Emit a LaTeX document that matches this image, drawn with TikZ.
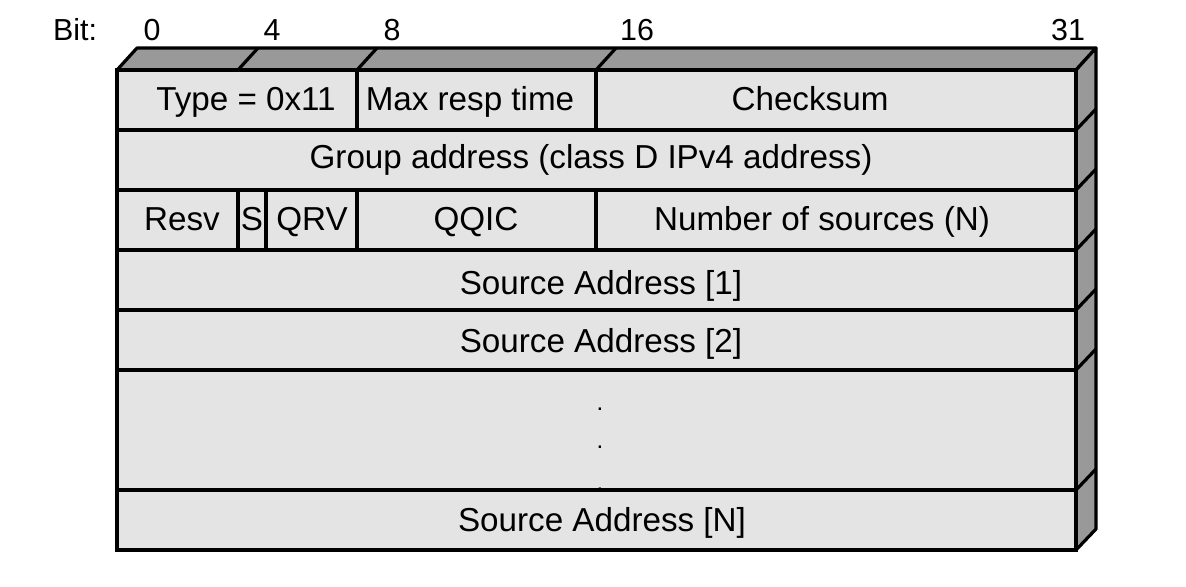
\documentclass[tikz,border=0pt]{standalone}
\usepackage{fontspec}
\setmainfont{Liberation Sans}
\definecolor{facegray}{HTML}{E4E4E4}
\definecolor{edgegray}{HTML}{999999}
\begin{document}
\begin{tikzpicture}[x=0.5pt,y=-0.5pt,
  cell/.style={draw=black,line width=1.6pt,fill=facegray},
  bevel/.style={draw=black,line width=1.6pt,fill=edgegray,line join=round},
  edge/.style={draw=black,line width=1.6pt},
  lbl/.style={font=\fontsize{16.6}{19}\selectfont,inner sep=0pt,anchor=base},
  bitlbl/.style={font=\fontsize{15.2}{17}\selectfont,inner sep=0pt,anchor=base}]
\useasboundingbox (0,0) rectangle (1186,587);
% top face
\draw[bevel] (117,70) -- (137,48) -- (1096,48) -- (1076,70) -- cycle;
\foreach \xx in {238,357,596} \draw[edge] (\xx,70) -- ++(20,-22);
% right side face
\draw[bevel] (1076,70) -- (1096,48) -- (1096,529) -- (1076,550) -- cycle;
\foreach \yy in {130,190,250,310,370,490} \draw[edge] (1076,\yy) -- ++(20,-21);
% row 1
\draw[cell] (117,70) rectangle (357,130);
\draw[cell] (357,70) rectangle (596,130);
\draw[cell] (596,70) rectangle (1076,130);
% row 2
\draw[cell] (117,130) rectangle (1076,190);
% row 3
\draw[cell] (117,190) rectangle (238,250);
\draw[cell] (238,190) rectangle (266,250);
\draw[cell] (266,190) rectangle (357,250);
\draw[cell] (357,190) rectangle (596,250);
\draw[cell] (596,190) rectangle (1076,250);
% rows 4..7
\draw[cell] (117,250) rectangle (1076,310);
\draw[cell] (117,310) rectangle (1076,370);
\draw[cell] (117,370) rectangle (1076,490);
\draw[cell] (117,490) rectangle (1076,550);
% bit numbers
\node[bitlbl] (bit) at (75,41) {Bit:};
\node[bitlbl] (b0) at (152,41) {0};
\node[bitlbl] (b4) at (272,41) {4};
\node[bitlbl] (b8) at (392,41) {8};
\node[bitlbl] (b16) at (637,41) {16};
\node[bitlbl] (b31) at (1068,41) {31};
% field labels
\node[lbl] (type) at (246,111) {Type = 0x11};
\node[lbl] (maxresp) at (470,111) {Max resp time};
\node[lbl] (checksum) at (810,111) {Checksum};
\node[lbl] (group) at (591,169) {Group address (class D IPv4 address)};
\node[lbl] (resv) at (182,231) {Resv};
\node[lbl] (sflag) at (252,231) {S};
\node[lbl] (qrv) at (312,231) {QRV};
\node[lbl] (qqic) at (476,231) {QQIC};
\node[lbl] (nsrc) at (822,231) {Number of sources (N)};
\node[lbl] (src1) at (601,294) {Source Address [1]};
\node[lbl] (src2) at (601,352) {Source Address [2]};
\node[lbl,font=\fontsize{12}{14}\selectfont] (dot1) at (600,410) {.};
\node[lbl,font=\fontsize{12}{14}\selectfont] (dot2) at (600,448) {.};
\node[lbl,font=\fontsize{12}{14}\selectfont] (dot3) at (600,490) {.};
\node[lbl] (srcn) at (602,531) {Source Address [N]};
\end{tikzpicture}
\end{document}
